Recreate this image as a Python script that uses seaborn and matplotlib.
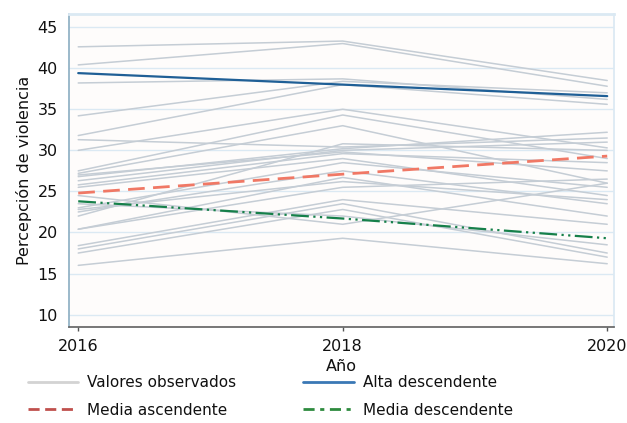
import pandas as pd
import numpy as np
import matplotlib
matplotlib.use('Agg')
import matplotlib.pyplot as plt
import seaborn as sns
from matplotlib.lines import Line2D

# Data
years = [2016, 2018, 2020]
obs_2016 = [42.6, 40.4, 38.2, 34.2, 31.8, 30.0, 31.3, 27.5, 27.2, 26.8, 26.3, 25.8,
            25.5, 23.0, 22.5, 22.0, 20.4, 20.4, 18.4, 18.0, 17.5, 16.0, 23.5, 24.5,
            27.0, 22.8]
obs_2018 = [43.3, 43.0, 38.7, 38.4, 38.0, 35.0, 30.4, 34.3, 33.0, 30.2, 30.0, 29.6,
            29.0, 28.5, 27.5, 30.8, 26.7, 25.5, 24.0, 23.5, 22.8, 19.3, 22.0, 21.0,
            29.8, 26.2]
obs_2020 = [38.5, 37.8, 36.2, 37.0, 35.6, 30.3, 31.5, 29.0, 26.0, 32.2, 31.0, 28.5,
            24.5, 25.5, 23.5, 30.0, 22.0, 26.5, 21.0, 17.5, 17.0, 16.2, 18.5, 26.0,
            27.5, 24.0]
alta_desc = [39.4, 38.0, 36.6]
media_asc = [24.8, 27.1, 29.3]
media_desc = [23.8, 21.7, 19.3]

rows = []
for i in range(len(obs_2016)):
    for y, v in zip(years, [obs_2016[i], obs_2018[i], obs_2020[i]]):
        rows.append({'id': i, 'Año': y, 'valor': v})
obs = pd.DataFrame(rows)

sns.set_theme(style='white')
plt.rcParams['font.family'] = ['DejaVu Sans']

fig = plt.figure(figsize=(6.27, 4.23), dpi=100)
ax = fig.add_axes([0.11, 0.227, 0.869, 0.740])
ax.set_facecolor('#fefcfb')

sns.lineplot(data=obs, x='Año', y='valor', units='id', estimator=None,
             color='#c5cdd5', lw=1.1, ax=ax, legend=False)
sns.lineplot(x=years, y=alta_desc, color='#1f5f96', lw=1.6, ax=ax)
sns.lineplot(x=years, y=media_asc, color='#f07865', lw=2.0, ax=ax,
             linestyle=(0, (6, 3)))
sns.lineplot(x=years, y=media_desc, color='#16804a', lw=1.6, ax=ax,
             linestyle=(0, (8, 2, 1, 2, 1, 2)))

ax.set_xlim(2015.93, 2020.05)
ax.set_ylim(8.5, 46.6)
ax.set_yticks([10, 15, 20, 25, 30, 35, 40, 45])
ax.set_xticks(years)
ax.grid(axis='y', color='#dbe9f3', lw=1)
ax.tick_params(axis='both', labelsize=11.5, colors='#111111')
ax.tick_params(axis='x', bottom=True, length=3, width=1, color='#555555', pad=6)
ax.tick_params(axis='y', pad=2)
ax.set_xlabel('Año', fontsize=11.5, labelpad=3, color='#111111')
ax.set_ylabel('Percepción de violencia', fontsize=11.5, labelpad=4, color='#111111')

for s in ['top', 'right']:
    ax.spines[s].set_color('#dbe9f3')
ax.spines['top'].set_linewidth(2)
ax.spines['left'].set_color('#8fb0c4')
ax.spines['bottom'].set_color('#666666')

handles = [
    Line2D([], [], color='#d3d3d3', lw=2),
    Line2D([], [], color='#c0504d', lw=2, linestyle=(0, (4, 2))),
    Line2D([], [], color='#3a78b5', lw=2),
    Line2D([], [], color='#2e8b3e', lw=2, linestyle=(0, (4, 2, 1.5, 2))),
]
labels = ['Valores observados', 'Media ascendente', 'Alta descendente', 'Media descendente']
leg = fig.legend(handles, labels, ncol=2, frameon=False, fontsize=11,
                 loc='upper left', bbox_to_anchor=(0.022, 0.145), handlelength=3.3,
                 columnspacing=4.4, labelspacing=0.8, handletextpad=0.6)
for t in leg.get_texts():
    t.set_color('#111111')

fig.savefig('out.png', dpi=100)
